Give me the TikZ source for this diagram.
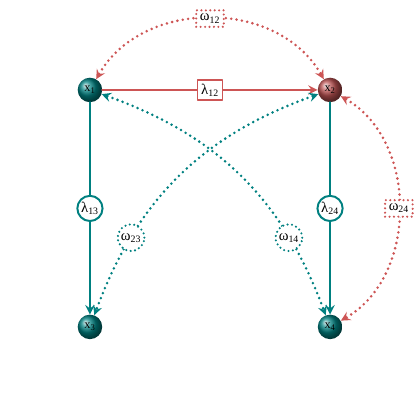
\documentclass[tikz,border=0pt]{standalone}
\usepackage{fontspec}
\setmainfont{Liberation Serif}

\definecolor{tealedge}{RGB}{0,128,128}
\definecolor{rededge}{RGB}{205,85,85}
\definecolor{redball}{RGB}{185,80,80}

\begin{document}
\begin{tikzpicture}[line cap=round, line join=round, >=stealth, font=\large,
  vertex/.style={circle, minimum size=0.7cm, inner sep=0pt, shading=ball, ball color=#1, text=black, font=\normalsize},
  solidline/.style={line width=2.3pt, draw=#1},
  dotline/.style={line width=2.3pt, draw=#1, dash pattern=on 0pt off 4.4pt},
  lamcirc/.style={circle, draw=tealedge, fill=white, solid, line width=1.6pt, minimum size=0.72cm, inner sep=0.5pt},
  lamrect/.style={rectangle, draw=rededge, fill=white, solid, line width=1.6pt, inner sep=3pt},
  omcirc/.style={circle, draw=tealedge, fill=white, line width=1.9pt, dash pattern=on 0pt off 3.6pt, minimum size=0.76cm, inner sep=0.5pt},
  omrect/.style={rectangle, draw=rededge, fill=white, line width=1.9pt, dash pattern=on 0pt off 3.6pt, inner sep=3pt}]

  \useasboundingbox (0,0) rectangle (12,12);

  % ── Vertices ────────────────────────────────────────────────────────────────

  \node[vertex=tealedge]    (x1) at (2.57, 9.43) {x\textsubscript{1}};
  \node[vertex=redball]     (x2) at (9.43, 9.43) {x\textsubscript{2}};
  \node[vertex=tealedge]    (x3) at (2.57, 2.66) {x\textsubscript{3}};
  \node[vertex=tealedge]    (x4) at (9.43, 2.66) {x\textsubscript{4}};

  % ── Rates ───────────────────────────────────────────────────────────────────

  \draw[solidline=rededge, ->]  (x1) -- node[lamrect] {λ\textsubscript{12}} (x2);
  \draw[solidline=tealedge, ->] (x1) -- node[lamcirc] {λ\textsubscript{13}} (x3);
  \draw[solidline=tealedge, ->] (x2) -- node[lamcirc] {λ\textsubscript{24}} (x4);

  % ── Couplings ───────────────────────────────────────────────────────────────

  \draw[dotline=rededge, <->] (x1) to[bend left=60, looseness=1.05]
    node[omrect] {ω\textsubscript{12}} (x2);
  \draw[dotline=rededge, <->] (x2) to[bend left=60, looseness=1.02]
    node[omrect] {ω\textsubscript{24}} (x4);
  \draw[dotline=tealedge, <->] (x2) to[bend right=25]
    node[pos=0.75, omcirc] {ω\textsubscript{23}} (x3);
  \draw[dotline=tealedge, <->] (x1) to[bend left=25]
    node[pos=0.75, omcirc] {ω\textsubscript{14}} (x4);

\end{tikzpicture}
\end{document}
